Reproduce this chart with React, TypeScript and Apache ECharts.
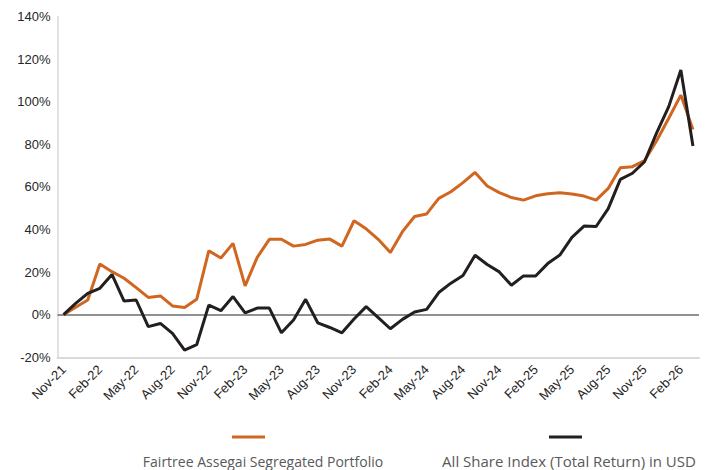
import React, { useEffect, useRef } from "react";
import * as echarts from "echarts";

const months: string[] = [
  "Nov-21", "Dec-21", "Jan-22", "Feb-22", "Mar-22", "Apr-22", "May-22", "Jun-22", "Jul-22", "Aug-22", "Sep-22", "Oct-22",
  "Nov-22", "Dec-22", "Jan-23", "Feb-23", "Mar-23", "Apr-23", "May-23", "Jun-23", "Jul-23", "Aug-23", "Sep-23", "Oct-23",
  "Nov-23", "Dec-23", "Jan-24", "Feb-24", "Mar-24", "Apr-24", "May-24", "Jun-24", "Jul-24", "Aug-24", "Sep-24", "Oct-24",
  "Nov-24", "Dec-24", "Jan-25", "Feb-25", "Mar-25", "Apr-25", "May-25", "Jun-25", "Jul-25", "Aug-25", "Sep-25", "Oct-25",
  "Nov-25", "Dec-25", "Jan-26", "Feb-26", "Mar-26",
];

const portfolio: number[] = [
  0, 3.5, 6.9, 23.8, 20.2, 17.1, 12.7, 8.1, 8.8, 4.1, 3.4, 7.2,
  30.0, 26.6, 33.5, 13.5, 26.9, 35.4, 35.4, 32.2, 33.0, 35.0, 35.5, 32.2,
  44.1, 40.3, 35.4, 29.2, 39.0, 46.1, 47.3, 54.6, 57.7, 62.0, 66.8, 60.4,
  57.3, 55.0, 53.8, 55.8, 56.8, 57.3, 56.7, 55.7, 53.8, 59.3, 69.0, 69.5,
  72.3, 81.7, 92.2, 103.1, 87.0,
];

const allShare: number[] = [
  0, 5.3, 10.0, 12.4, 18.9, 6.4, 6.9, -5.6, -4.1, -8.8, -16.6, -14.1,
  4.5, 1.9, 8.5, 0.9, 3.1, 3.1, -8.5, -2.5, 7.2, -3.8, -6.0, -8.5,
  -2.0, 3.8, -1.4, -6.6, -2.2, 1.3, 2.5, 10.4, 14.8, 18.4, 27.9, 23.6,
  20.1, 13.8, 18.2, 18.2, 24.0, 28.0, 36.3, 41.6, 41.4, 49.8, 63.5, 66.4,
  71.8, 85.4, 97.7, 114.9, 79.2,
];

const seriesNames: string[] = [
  "Fairtree Assegai Segregated Portfolio",
  "All Share Index (Total Return) in USD",
];

const ORANGE = "#D0661F";
const BLACK = "#231F20";

export default function App() {
  const ref = useRef<HTMLDivElement>(null);
  useEffect(() => {
    if (!ref.current) return;
    const chart = echarts.init(ref.current, null, { renderer: "svg" });
    chart.setOption({
      animation: false,
      backgroundColor: "#ffffff",
      grid: { left: 57.5, top: 16.5, right: 21, bottom: 112.7, containLabel: false },
      xAxis: {
        type: "category",
        data: months,
        boundaryGap: true,
        axisLine: { onZero: false, lineStyle: { color: "#d9d9d9", width: 2 } },
        axisTick: { show: false },
        axisLabel: {
          interval: 2,
          rotate: 45,
          color: "#262626",
          fontFamily: "'Liberation Sans', Arial, sans-serif",
          fontSize: 13,
          margin: 10,
        },
        splitLine: { show: false },
      },
      yAxis: {
        type: "value",
        min: -20,
        max: 140,
        interval: 20,
        axisLine: { show: true, lineStyle: { color: "#d9d9d9", width: 1.5 } },
        axisTick: { show: false },
        splitLine: { show: false },
        axisLabel: {
          formatter: "{value}%",
          color: "#262626",
          fontFamily: "'Liberation Sans', Arial, sans-serif",
          fontSize: 13,
          margin: 7,
        },
      },
      series: [
        {
          name: seriesNames[0],
          type: "line",
          data: portfolio,
          symbol: "none",
          lineStyle: { color: ORANGE, width: 3 },
          itemStyle: { color: ORANGE },
          z: 2,
          markLine: {
            silent: true,
            symbol: "none",
            label: { show: false },
            lineStyle: { color: "#6b6b6b", width: 1.5, type: "solid" },
            data: [{ yAxis: 0 }],
            z: 1,
          },
        },
        {
          name: seriesNames[1],
          type: "line",
          data: allShare,
          symbol: "none",
          lineStyle: { color: BLACK, width: 3 },
          itemStyle: { color: BLACK },
          z: 3,
        },
      ],
      graphic: [
        { type: "rect", left: 232, top: 435.5, shape: { width: 33, height: 3 }, style: { fill: ORANGE } },
        { type: "rect", left: 549, top: 435.5, shape: { width: 33, height: 3 }, style: { fill: BLACK } },
        {
          type: "text",
          x: 263,
          y: 461,
          style: {
            text: seriesNames[0],
            textAlign: "center",
            textVerticalAlign: "middle",
            fill: "#595959",
            font: "14px 'Open Sans', sans-serif",
          },
        },
        {
          type: "text",
          x: 569,
          y: 461,
          style: {
            text: seriesNames[1],
            textAlign: "center",
            textVerticalAlign: "middle",
            fill: "#595959",
            font: "15px 'Open Sans', sans-serif",
          },
        },
      ],
    });
    return () => chart.dispose();
  }, []);
  return <div ref={ref} style={{ width: 720, height: 470, position: "absolute", left: 0, top: 0 }} />;
}
